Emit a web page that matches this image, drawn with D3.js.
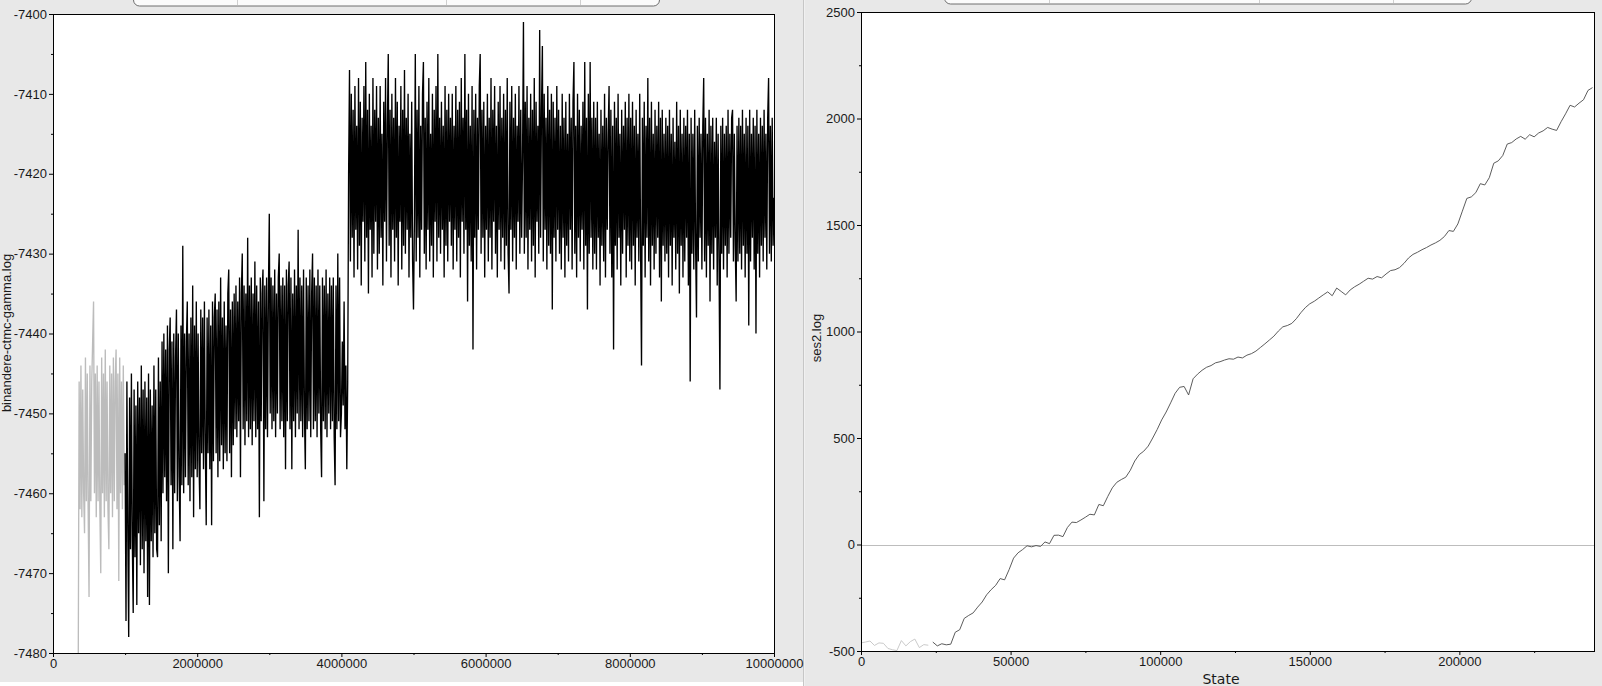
<!DOCTYPE html>
<html>
<head>
<meta charset="utf-8">
<script src="https://cdn.jsdelivr.net/npm/d3@7"></script>
<style>
  body { margin: 0; background: #e8e8e8; overflow: hidden; }
  svg { display: block; font-family: "Liberation Sans", Arial, sans-serif; }
</style>
</head>
<body>
<svg id="chart" width="1602" height="686"></svg>
<script>
// left trace: binandere-ctmc-gamma.log (one sample every 12500 states)
const leftStart = 350000;
const leftStep = 12500;
const leftBurnin = 1000000;
const leftValues = [
  // burn-in, 350000 .. 1000000
  -7482, -7446, -7462, -7444, -7463, -7447, -7460, -7465, -7443, -7461, -7445, -7462, -7473, -7444, -7461, -7446, -7441, -7436, -7460, -7445,
  -7463, -7444, -7461, -7446, -7462, -7470, -7443, -7460, -7445, -7463, -7442, -7461, -7446, -7462, -7467, -7444, -7460, -7445, -7463, -7443,
  -7461, -7446, -7442, -7462, -7445, -7471, -7443, -7460, -7446, -7462, -7444, -7459, -7455,
  // 1.0M .. 1.5M
  -7476, -7446, -7465, -7478, -7448, -7467, -7445, -7466, -7475, -7447, -7468, -7449, -7474, -7446, -7465, -7448, -7469, -7444, -7467, -7447,
  -7470, -7446, -7466, -7448, -7473, -7445, -7474, -7447, -7466, -7449, -7468, -7444, -7465, -7447, -7467, -7468, -7443, -7464, -7446, -7466,
  // 1.5M .. 2.0M
  -7441, -7460, -7440, -7458, -7442, -7461, -7439, -7470, -7442, -7438, -7459, -7441, -7467, -7440, -7460, -7443, -7437, -7461, -7440, -7458,
  -7466, -7439, -7459, -7429, -7460, -7440, -7458, -7441, -7436, -7459, -7440, -7461, -7438, -7458, -7434, -7463, -7439, -7457, -7436, -7458,
  // 2.0M .. 2.5M
  -7440, -7456, -7462, -7437, -7455, -7438, -7457, -7436, -7454, -7464, -7438, -7455, -7437, -7457, -7439, -7464, -7436, -7456, -7438, -7435,
  -7455, -7437, -7458, -7436, -7456, -7433, -7454, -7438, -7457, -7436, -7455, -7439, -7456, -7435, -7432, -7455, -7437, -7458, -7436, -7454,
  // 2.5M .. 3.0M
  -7435, -7452, -7434, -7453, -7436, -7451, -7433, -7458, -7435, -7430, -7452, -7434, -7454, -7435, -7451, -7428, -7453, -7434, -7452, -7433,
  -7454, -7435, -7451, -7431, -7453, -7434, -7452, -7436, -7463, -7433, -7451, -7435, -7432, -7461, -7434, -7452, -7433, -7453, -7435, -7425,
  // 3.0M .. 3.5M
  -7450, -7433, -7452, -7434, -7451, -7432, -7453, -7435, -7450, -7433, -7430, -7452, -7434, -7451, -7433, -7453, -7434, -7457, -7432, -7451,
  -7434, -7431, -7452, -7433, -7457, -7435, -7451, -7432, -7453, -7434, -7450, -7427, -7452, -7433, -7451, -7434, -7453, -7432, -7450, -7457,
  // 3.5M .. 4.0M
  -7433, -7452, -7434, -7451, -7432, -7453, -7435, -7430, -7452, -7433, -7451, -7434, -7453, -7432, -7450, -7434, -7452, -7458, -7433, -7451,
  -7434, -7452, -7432, -7453, -7435, -7450, -7433, -7452, -7434, -7451, -7433, -7453, -7459, -7434, -7452, -7430, -7451, -7433, -7453, -7450,
  // 4.0M .. 4.5M
  -7441, -7449, -7436, -7452, -7444, -7457, -7446, -7420, -7407, -7431, -7410, -7428, -7412, -7433, -7409, -7427, -7414, -7432, -7408, -7429,
  -7411, -7434, -7413, -7426, -7409, -7431, -7406, -7428, -7412, -7435, -7410, -7427, -7414, -7433, -7408, -7430, -7412, -7426, -7409, -7432,
  // 4.5M .. 5.0M
  -7413, -7430, -7409, -7428, -7415, -7434, -7411, -7426, -7408, -7431, -7414, -7405, -7429, -7412, -7433, -7410, -7427, -7413, -7431, -7408,
  -7428, -7411, -7434, -7414, -7426, -7409, -7432, -7412, -7429, -7407, -7430, -7413, -7427, -7410, -7433, -7415, -7428, -7411, -7431, -7437,
  // 5.0M .. 5.5M
  -7426, -7405, -7431, -7412, -7428, -7409, -7433, -7414, -7427, -7410, -7406, -7430, -7413, -7432, -7411, -7427, -7408, -7431, -7415, -7429,
  -7410, -7433, -7412, -7426, -7409, -7431, -7405, -7428, -7413, -7430, -7411, -7427, -7414, -7433, -7409, -7429, -7412, -7431, -7410, -7426,
  // 5.5M .. 6.0M
  -7413, -7429, -7410, -7432, -7414, -7427, -7409, -7431, -7412, -7428, -7411, -7433, -7408, -7426, -7413, -7430, -7405, -7427, -7412, -7436,
  -7410, -7429, -7414, -7431, -7409, -7442, -7412, -7428, -7410, -7432, -7413, -7427, -7409, -7405, -7430, -7412, -7428, -7411, -7433, -7414,
  // 6.0M .. 6.5M
  -7427, -7410, -7431, -7413, -7428, -7408, -7432, -7412, -7426, -7409, -7430, -7414, -7433, -7411, -7427, -7409, -7431, -7413, -7428, -7410,
  -7432, -7412, -7429, -7408, -7430, -7435, -7411, -7427, -7409, -7431, -7413, -7428, -7410, -7432, -7414, -7426, -7409, -7430, -7412, -7428,
  // 6.5M .. 7.0M
  -7418, -7401, -7430, -7411, -7428, -7409, -7432, -7413, -7427, -7410, -7431, -7412, -7429, -7408, -7433, -7411, -7426, -7414, -7430, -7402,
  -7428, -7412, -7404, -7431, -7410, -7427, -7413, -7432, -7409, -7429, -7412, -7430, -7410, -7437, -7411, -7428, -7413, -7431, -7409, -7427,
  // 7.0M .. 7.5M
  -7412, -7430, -7414, -7432, -7410, -7428, -7413, -7433, -7411, -7429, -7415, -7431, -7410, -7427, -7413, -7432, -7411, -7406, -7430, -7414,
  -7433, -7410, -7428, -7412, -7431, -7414, -7427, -7411, -7432, -7406, -7429, -7413, -7437, -7410, -7430, -7406, -7428, -7413, -7432, -7411,
  // 7.5M .. 8.0M
  -7430, -7413, -7432, -7411, -7428, -7415, -7434, -7412, -7429, -7414, -7431, -7410, -7433, -7413, -7427, -7415, -7409, -7430, -7412, -7433,
  -7414, -7442, -7411, -7429, -7413, -7432, -7410, -7428, -7415, -7434, -7412, -7430, -7414, -7427, -7411, -7433, -7413, -7429, -7410, -7431,
  // 8.0M .. 8.5M
  -7413, -7432, -7411, -7429, -7414, -7434, -7412, -7428, -7415, -7431, -7410, -7430, -7444, -7413, -7429, -7411, -7433, -7414, -7428, -7408,
  -7431, -7413, -7434, -7411, -7429, -7415, -7432, -7412, -7430, -7414, -7428, -7411, -7433, -7413, -7436, -7412, -7429, -7415, -7431, -7413,
  // 8.5M .. 9.0M
  -7430, -7414, -7433, -7412, -7429, -7415, -7434, -7413, -7428, -7416, -7432, -7411, -7430, -7414, -7435, -7412, -7429, -7415, -7433, -7413,
  -7431, -7414, -7428, -7412, -7434, -7415, -7446, -7413, -7430, -7415, -7432, -7412, -7429, -7438, -7414, -7431, -7413, -7428, -7415, -7432,
  // 9.0M .. 9.5M
  -7414, -7408, -7431, -7413, -7433, -7415, -7429, -7412, -7436, -7414, -7430, -7413, -7432, -7416, -7428, -7413, -7434, -7415, -7431, -7447,
  -7414, -7430, -7413, -7432, -7415, -7429, -7414, -7433, -7412, -7430, -7415, -7428, -7413, -7412, -7431, -7415, -7429, -7436, -7414, -7431,
  // 9.5M .. 10.0M
  -7413, -7430, -7414, -7432, -7412, -7429, -7415, -7433, -7413, -7430, -7414, -7439, -7412, -7431, -7415, -7428, -7413, -7432, -7414, -7440,
  -7412, -7430, -7415, -7433, -7413, -7429, -7414, -7431, -7412, -7428, -7415, -7432, -7413, -7408, -7430, -7414, -7431, -7413, -7429, -7423
];
const leftXDomain = [0, 10000000];
const leftYDomain = [-7480, -7400];
const leftXTicks = [0, 2000000, 4000000, 6000000, 8000000, 10000000];
const leftXMinor = [1000000, 3000000, 5000000, 7000000, 9000000];
const leftYTicks = [-7480, -7470, -7460, -7450, -7440, -7430, -7420, -7410, -7400];
const leftYMinor = [-7475, -7465, -7455, -7445, -7435, -7425, -7415, -7405];

// right trace: ses2.log (one sample every 1500 states)
const rightStart = 0;
const rightStep = 1500;
const rightBurnin = 23000;
const rightValues = [
  -462, -458, -453, -474, -462, -464, -488, -494, -498, -451, -476, -456, -444, -484, -470, -473,
  -458, -476, -466, -471, -468, -412, -400, -347, -333, -321,
  -294, -270, -236, -212, -192, -160, -166, -118, -64, -39,
  -24, -6, -11, -5, -9, 12, 4, 43, 44, 37,
  80, 105, 103, 115, 128, 142, 139, 188, 182, 226,
  266, 292, 305, 316, 348, 392, 422, 438, 462, 500,
  540, 585, 622, 665, 710, 738, 742, 702, 778, 800,
  818, 832, 840, 853, 858, 866, 872, 870, 880, 876,
  889, 896, 908, 925, 942, 960, 978, 1002, 1022, 1028,
  1038, 1060, 1088, 1112, 1130, 1142, 1157, 1172, 1186, 1168,
  1204, 1188, 1172, 1195, 1210, 1222, 1236, 1250, 1246, 1258,
  1252, 1270, 1286, 1290, 1300, 1320, 1345, 1362, 1372, 1384,
  1394, 1406, 1416, 1428, 1446, 1474, 1470, 1505, 1565, 1625,
  1632, 1652, 1694, 1688, 1722, 1790, 1801, 1826, 1880, 1887,
  1904, 1916, 1903, 1924, 1914, 1932, 1942, 1958, 1950, 1944,
  1985, 2022, 2062, 2054, 2072, 2088, 2132, 2145
];
const rightXDomain = [0, 245000];
const rightYDomain = [-500, 2500];
const rightXTicks = [0, 50000, 100000, 150000, 200000];
const rightXMinor = [25000, 75000, 125000, 175000, 225000];
const rightYTicks = [-500, 0, 500, 1000, 1500, 2000, 2500];
const rightYMinor = [-250, 250, 750, 1250, 1750, 2250];

const svg = d3.select("#chart");
const defs = svg.append("defs");

/* =========================
   WINDOW CHROME
========================= */

// segmented controls peeking in at the top
[[133, 526, [237, 446, 580], 6], [944, 527, [1049, 1259, 1393], 4]].forEach(([x, w, divs, bottom]) => {
    svg.append("rect")
        .attr("x", x + 0.5).attr("y", -20)
        .attr("width", w).attr("height", 20 + bottom)
        .attr("rx", 6)
        .attr("fill", "#fbfbfb")
        .attr("stroke", "#6e6e6e");
    divs.forEach(dx => {
        svg.append("line")
            .attr("x1", dx + 0.5).attr("x2", dx + 0.5)
            .attr("y1", 0).attr("y2", bottom - 1)
            .attr("stroke", "#cfcfcf");
    });
});

// divider between the two panels
svg.append("line").attr("x1", 803.5).attr("x2", 803.5).attr("y1", 0).attr("y2", 686).attr("stroke", "#c6c6c6");
svg.append("line").attr("x1", 804.5).attr("x2", 804.5).attr("y1", 0).attr("y2", 686).attr("stroke", "#f0f0f0");

/* =========================
   TRACE PANELS
========================= */

function drawTrace(box, cfg) {
    const x = d3.scaleLinear().domain(cfg.xDomain).range([box.x0, box.x1]);
    const y = d3.scaleLinear().domain(cfg.yDomain).range([box.y1, box.y0]);
    const g = svg.append("g");

    g.append("rect")
        .attr("x", box.x0).attr("y", box.y0)
        .attr("width", box.x1 - box.x0).attr("height", box.y1 - box.y0)
        .attr("fill", "#fff");

    defs.append("clipPath").attr("id", cfg.id)
        .append("rect")
        .attr("x", box.x0).attr("y", box.y0)
        .attr("width", box.x1 - box.x0).attr("height", box.y1 - box.y0);

    const pts = cfg.values.map((v, i) => ({ state: cfg.start + i * cfg.step, value: v }));
    const line = d3.line().x(d => x(d.state)).y(d => y(d.value));

    const plot = g.append("g").attr("clip-path", `url(#${cfg.id})`);

    if (cfg.zeroLine) {
        plot.append("line")
            .attr("x1", box.x0).attr("x2", box.x1)
            .attr("y1", Math.round(y(0)) + 0.5).attr("y2", Math.round(y(0)) + 0.5)
            .attr("stroke", "#bdbdbd");
    }

    plot.append("path")
        .datum(pts.filter(d => d.state <= cfg.burnin))
        .attr("d", line)
        .attr("fill", "none")
        .attr("stroke", cfg.burnColor)
        .attr("stroke-width", cfg.width);

    plot.append("path")
        .datum(pts.filter(d => d.state >= cfg.burnin))
        .attr("d", line)
        .attr("fill", "none")
        .attr("stroke", cfg.color)
        .attr("stroke-width", cfg.width);

    // axes: major ticks with labels, minor ticks bare
    const fmt = d => String(d);
    const yAxis = g.append("g").attr("transform", `translate(${box.x0},0)`)
        .call(d3.axisLeft(y).tickValues(cfg.yTicks).tickSize(4).tickPadding(2).tickFormat(fmt));
    const yMinor = g.append("g").attr("transform", `translate(${box.x0},0)`)
        .call(d3.axisLeft(y).tickValues(cfg.yMinor).tickSize(2).tickFormat(""));
    const xAxis = g.append("g").attr("transform", `translate(0,${box.y1})`)
        .call(d3.axisBottom(x).tickValues(cfg.xTicks).tickSize(4).tickPadding(2).tickFormat(fmt));
    const xMinor = g.append("g").attr("transform", `translate(0,${box.y1})`)
        .call(d3.axisBottom(x).tickValues(cfg.xMinor).tickSize(2).tickFormat(""));

    [yAxis, yMinor, xAxis, xMinor].forEach(a => {
        a.select(".domain").remove();
        a.selectAll("text").attr("font-size", 13).attr("fill", "#1a1a1a")
            .attr("font-family", "'Liberation Sans', Arial, sans-serif");
    });

    g.append("rect")
        .attr("x", box.x0 + 0.5).attr("y", box.y0 + 0.5)
        .attr("width", box.x1 - box.x0).attr("height", box.y1 - box.y0)
        .attr("fill", "none")
        .attr("stroke", "#000");

    g.append("text")
        .attr("transform", `translate(${cfg.yLabelPos[0]},${cfg.yLabelPos[1]}) rotate(-90)`)
        .attr("text-anchor", "middle")
        .attr("font-size", 13)
        .attr("fill", "#1a1a1a")
        .text(cfg.yLabel);

    g.append("text")
        .attr("x", cfg.xLabelPos[0]).attr("y", cfg.xLabelPos[1])
        .attr("text-anchor", "middle")
        .attr("font-size", 14)
        .attr("font-family", "'DejaVu Sans', sans-serif")
        .attr("fill", "#1a1a1a")
        .text("State");
}

drawTrace({ x0: 53, x1: 774, y0: 14, y1: 653 }, {
    id: "clipLeft",
    values: leftValues, start: leftStart, step: leftStep, burnin: leftBurnin,
    xDomain: leftXDomain, yDomain: leftYDomain,
    xTicks: leftXTicks, xMinor: leftXMinor, yTicks: leftYTicks, yMinor: leftYMinor,
    color: "#000", width: 1.35, burnColor: "#bcbcbc",
    yLabel: "binandere-ctmc-gamma.log", yLabelPos: [11, 333],
    xLabelPos: [413, 692]
});

drawTrace({ x0: 861, x1: 1594, y0: 12, y1: 651 }, {
    id: "clipRight",
    values: rightValues, start: rightStart, step: rightStep, burnin: rightBurnin,
    xDomain: rightXDomain, yDomain: rightYDomain,
    xTicks: rightXTicks, xMinor: rightXMinor, yTicks: rightYTicks, yMinor: rightYMinor,
    color: "#4a4a4a", width: 0.9, burnColor: "#c4c4c4", zeroLine: true,
    yLabel: "ses2.log", yLabelPos: [821, 338],
    xLabelPos: [1221, 684]
});

// left panel is cut off at the bottom by a white strip
svg.append("rect").attr("x", 0).attr("y", 682).attr("width", 803).attr("height", 4).attr("fill", "#fff");
</script>
</body>
</html>
